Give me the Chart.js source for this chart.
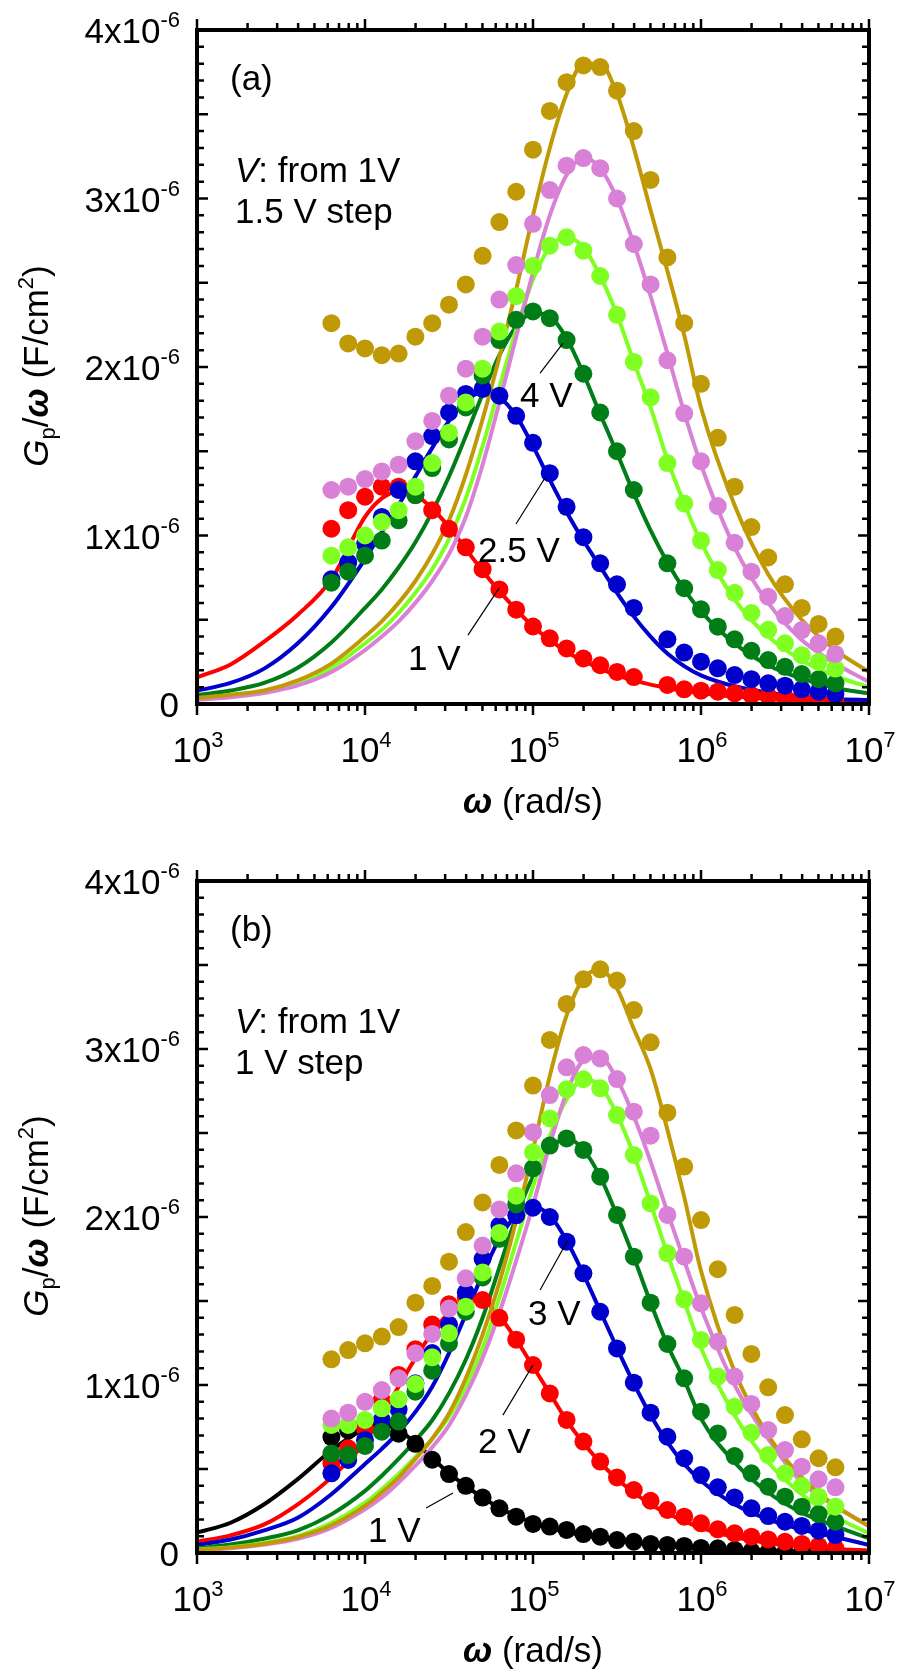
<!DOCTYPE html>
<html>
<head>
<meta charset="utf-8">
<script src="https://cdn.jsdelivr.net/npm/chart.js@4.4.1/dist/chart.umd.min.js"></script>
<style>
  html, body { margin: 0; padding: 0; background: #fff; }
  #wrap { position: relative; width: 900px; height: 1677px; }
  canvas { position: absolute; left: 0; }
</style>
</head>
<body>
<div id="wrap">
  <canvas id="chartA" width="900" height="851" style="top:0"></canvas>
  <canvas id="chartB" width="900" height="826" style="top:851px"></canvas>
</div>
<script>
// measured frequencies, rad/s
const omegaMeas = [6310, 7943, 10000, 12589, 15849, 19953, 25119, 31623, 39811, 50119,
  63096, 79433, 100000, 125893, 158489, 199526, 251189, 316228, 398107, 501187,
  630957, 794328, 1000000, 1258925, 1584893, 1995262, 2511886, 3162278, 3981072, 5011872, 6309573];

const omegaFit = [1000, 1585, 2512, 3981, 6310, 10000, 12589, 15849, 19953, 25119,
  31623, 39811, 50119, 63096, 79433, 100000, 125893, 158489, 199526, 251189,
  316228, 398107, 501187, 630957, 794328, 1000000, 1584893, 2511886, 3981072, 6309573, 10000000];

// Gp/omega in units of 1e-6 F/cm2
// panel (a): 1 V to 8.5 V, 1.5 V step
const redA = [1.04, 1.15, 1.23, 1.29, 1.29, 1.24, 1.15, 1.04, 0.93, 0.80, 0.68, 0.56, 0.46, 0.39, 0.33, 0.27, 0.23, 0.19, 0.16, null, 0.113, 0.087, 0.079, 0.073, 0.063, 0.053, 0.047, 0.040, 0.034, 0.020, 0.014];
const blueA = [0.74, 0.84, 0.95, 1.11, 1.27, 1.44, 1.59, 1.73, 1.84, 1.87, 1.83, 1.71, 1.55, 1.37, 1.17, 0.99, 0.835, 0.71, 0.57, null, 0.384, 0.305, 0.251, 0.212, 0.172, 0.147, 0.123, 0.109, 0.087, 0.073, 0.059];
const dkGreenA = [0.72, 0.785, 0.88, 0.97, 1.09, 1.24, 1.40, 1.57, 1.76, 1.95, 2.16, 2.28, 2.33, 2.29, 2.16, 1.96, 1.73, 1.50, 1.27, null, 0.835, 0.687, 0.562, 0.459, 0.384, 0.316, 0.261, 0.221, 0.178, 0.147, 0.123];
const ltGreenA = [0.88, 0.93, 1.00, 1.08, 1.15, 1.29, 1.43, 1.61, 1.79, 1.99, 2.21, 2.42, 2.60, 2.72, 2.77, 2.69, 2.54, 2.31, 2.03, 1.82, 1.43, 1.19, 0.97, 0.795, 0.66, 0.54, 0.44, 0.36, 0.29, 0.25, 0.21];
const pinkA = [1.27, 1.29, 1.335, 1.38, 1.42, 1.56, 1.68, 1.83, 1.99, 2.18, 2.40, 2.605, 2.85, 3.05, 3.195, 3.24, 3.18, 3.00, 2.73, 2.49, 2.04, 1.725, 1.44, 1.175, 0.957, 0.785, 0.637, 0.522, 0.439, 0.36, 0.297];
const goldA = [2.26, 2.14, 2.11, 2.07, 2.08, 2.18, 2.26, 2.37, 2.49, 2.66, 2.86, 3.04, 3.29, 3.52, 3.69, 3.79, 3.78, 3.64, 3.40, 3.11, 2.65, 2.26, 1.90, 1.58, 1.29, 1.05, 0.87, 0.71, 0.57, 0.475, 0.40];

const fitRedA = [0.158, 0.235, 0.37, 0.53, 0.74, 1.11, 1.22, 1.26, 1.24, 1.16, 1.05, 0.92, 0.79, 0.67, 0.56, 0.46, 0.38, 0.31, 0.255, 0.21, 0.17, 0.14, 0.115, 0.095, 0.078, 0.064, 0.044, 0.03, 0.02, 0.013, 0.008];
const fitBlueA = [0.079, 0.125, 0.21, 0.36, 0.575, 0.86, 1.02, 1.18, 1.35, 1.52, 1.68, 1.80, 1.85, 1.82, 1.71, 1.53, 1.33, 1.14, 0.97, 0.815, 0.66, 0.52, 0.40, 0.30, 0.225, 0.17, 0.105, 0.067, 0.045, 0.03, 0.023];
const fitDkGreenA = [0.053, 0.08, 0.125, 0.215, 0.365, 0.57, 0.68, 0.81, 0.96, 1.14, 1.35, 1.59, 1.84, 2.07, 2.24, 2.32, 2.30, 2.17, 1.96, 1.72, 1.49, 1.25, 1.03, 0.84, 0.68, 0.55, 0.36, 0.23, 0.15, 0.095, 0.063];
const fitLtGreenA = [0.03, 0.048, 0.072, 0.125, 0.215, 0.36, 0.44, 0.54, 0.66, 0.80, 0.98, 1.22, 1.53, 1.88, 2.22, 2.52, 2.71, 2.77, 2.71, 2.54, 2.31, 2.03, 1.76, 1.45, 1.19, 0.96, 0.62, 0.40, 0.26, 0.165, 0.10];
const fitPinkA = [0.025, 0.04, 0.065, 0.11, 0.19, 0.32, 0.40, 0.49, 0.60, 0.73, 0.89, 1.11, 1.42, 1.79, 2.18, 2.56, 2.90, 3.14, 3.24, 3.18, 3.00, 2.73, 2.42, 2.08, 1.73, 1.42, 0.93, 0.60, 0.38, 0.24, 0.13];
const fitGoldA = [0.035, 0.055, 0.08, 0.14, 0.24, 0.40, 0.49, 0.60, 0.73, 0.89, 1.09, 1.36, 1.69, 2.06, 2.46, 2.90, 3.30, 3.62, 3.80, 3.80, 3.62, 3.30, 2.93, 2.57, 2.19, 1.76, 1.18, 0.77, 0.50, 0.32, 0.19];

// panel (b): 1 V to 7 V, 1 V step
const blackB = [0.69, 0.73, 0.77, 0.78, 0.71, 0.65, 0.555, 0.47, 0.40, 0.33, 0.266, 0.216, 0.173, 0.157, 0.137, 0.113, 0.097, 0.077, 0.067, 0.054, 0.048, 0.042, 0.03, 0.028, 0.018, 0.01, 0.005, 0.003, 0.002, 0.002, 0.002];
const redB = [0.534, 0.623, 0.742, 0.91, 1.06, 1.213, 1.36, 1.48, 1.52, 1.506, 1.40, 1.27, 1.119, 0.95, 0.792, 0.663, 0.544, 0.45, 0.375, 0.311, 0.256, 0.216, 0.177, 0.141, 0.117, 0.097, 0.081, 0.067, 0.054, 0.042, 0.028];
const blueB = [0.474, 0.554, 0.673, 0.792, 0.855, 1.01, 1.19, 1.36, 1.55, 1.75, 1.95, 2.01, 2.055, 2.0, 1.853, 1.665, 1.436, 1.218, 1.014, 0.835, 0.692, 0.564, 0.464, 0.391, 0.331, 0.266, 0.22, 0.186, 0.161, 0.133, 0.107];
const dkGreenB = [0.593, 0.583, 0.637, 0.722, 0.782, 0.96, 1.085, 1.248, 1.436, 1.64, 1.87, 2.075, 2.29, 2.425, 2.468, 2.399, 2.24, 2.012, 1.764, 1.49, 1.244, 1.04, 0.841, 0.712, 0.577, 0.474, 0.395, 0.335, 0.276, 0.232, 0.186];
const ltGreenB = [0.762, 0.762, 0.792, 0.861, 0.915, 1.006, 1.165, 1.308, 1.466, 1.67, 1.905, 2.127, 2.385, 2.587, 2.76, 2.82, 2.766, 2.607, 2.369, 2.081, 1.784, 1.51, 1.268, 1.05, 0.871, 0.716, 0.583, 0.474, 0.399, 0.335, 0.276];
const pinkB = [0.80, 0.835, 0.90, 0.97, 1.04, 1.189, 1.304, 1.455, 1.635, 1.83, 2.045, 2.26, 2.505, 2.726, 2.891, 2.964, 2.944, 2.821, 2.627, 2.484, 2.012, 1.764, 1.486, 1.258, 1.05, 0.887, 0.732, 0.613, 0.514, 0.439, 0.391];
const goldB = [1.153, 1.208, 1.248, 1.288, 1.345, 1.49, 1.59, 1.734, 1.91, 2.087, 2.31, 2.515, 2.782, 3.054, 3.268, 3.415, 3.474, 3.407, 3.232, 3.04, 2.621, 2.30, 1.982, 1.689, 1.417, 1.185, 0.986, 0.821, 0.677, 0.564, 0.51];

const fitBlackB = [0.121, 0.18, 0.29, 0.44, 0.61, 0.74, 0.765, 0.73, 0.655, 0.565, 0.475, 0.40, 0.33, 0.27, 0.22, 0.18, 0.15, 0.125, 0.105, 0.09, 0.075, 0.062, 0.052, 0.043, 0.035, 0.029, 0.02, 0.013, 0.008, 0.005, 0.003];
const fitRedB = [0.067, 0.105, 0.17, 0.29, 0.45, 0.66, 0.82, 0.99, 1.16, 1.31, 1.43, 1.50, 1.50, 1.41, 1.27, 1.11, 0.95, 0.79, 0.655, 0.54, 0.44, 0.36, 0.29, 0.235, 0.19, 0.15, 0.095, 0.06, 0.038, 0.024, 0.015];
const fitBlueB = [0.048, 0.08, 0.135, 0.21, 0.35, 0.53, 0.62, 0.72, 0.84, 0.99, 1.19, 1.42, 1.66, 1.87, 2.01, 2.06, 2.01, 1.86, 1.66, 1.44, 1.22, 1.01, 0.82, 0.66, 0.53, 0.43, 0.29, 0.20, 0.14, 0.095, 0.048];
const fitDkGreenB = [0.028, 0.05, 0.085, 0.135, 0.23, 0.37, 0.46, 0.56, 0.67, 0.79, 0.95, 1.15, 1.40, 1.70, 2.00, 2.24, 2.40, 2.47, 2.40, 2.24, 2.01, 1.76, 1.49, 1.24, 1.03, 0.80, 0.54, 0.36, 0.24, 0.16, 0.087];
const fitLtGreenB = [0.02, 0.035, 0.06, 0.10, 0.18, 0.30, 0.38, 0.47, 0.57, 0.68, 0.81, 0.99, 1.22, 1.52, 1.85, 2.18, 2.48, 2.70, 2.82, 2.78, 2.61, 2.37, 2.08, 1.78, 1.50, 1.22, 0.82, 0.54, 0.35, 0.215, 0.117];
const fitPinkB = [0.015, 0.028, 0.05, 0.085, 0.15, 0.26, 0.33, 0.42, 0.52, 0.63, 0.76, 0.94, 1.16, 1.43, 1.74, 2.07, 2.43, 2.74, 2.93, 2.95, 2.82, 2.60, 2.33, 2.03, 1.74, 1.46, 1.00, 0.68, 0.42, 0.28, 0.16];
const fitGoldB = [0.018, 0.032, 0.055, 0.095, 0.165, 0.28, 0.36, 0.45, 0.56, 0.68, 0.83, 1.04, 1.30, 1.61, 1.98, 2.40, 2.84, 3.20, 3.42, 3.47, 3.36, 3.12, 2.88, 2.52, 2.12, 1.68, 1.08, 0.70, 0.45, 0.28, 0.16];

const yTickValues = [0, 1, 2, 3, 4];          // x1e-6
const xDecades = [3, 4, 5, 6, 7];

const C = {
  black: '#000000', red: '#ff0000', blue: '#0000cc', dkGreen: '#007d17',
  ltGreen: '#80ff22', pink: '#d981d6', gold: '#c09a06'
};
const SCALE = 1e-6;
const FONT = "'Liberation Sans', Arial, sans-serif";

const seriesA = [
  { pts: redA, fit: fitRedA, color: C.red },
  { pts: blueA, fit: fitBlueA, color: C.blue },
  { pts: dkGreenA, fit: fitDkGreenA, color: C.dkGreen },
  { pts: ltGreenA, fit: fitLtGreenA, color: C.ltGreen },
  { pts: pinkA, fit: fitPinkA, color: C.pink },
  { pts: goldA, fit: fitGoldA, color: C.gold }
];
const seriesB = [
  { pts: blackB, fit: fitBlackB, color: C.black },
  { pts: redB, fit: fitRedB, color: C.red },
  { pts: blueB, fit: fitBlueB, color: C.blue },
  { pts: dkGreenB, fit: fitDkGreenB, color: C.dkGreen },
  { pts: ltGreenB, fit: fitLtGreenB, color: C.ltGreen },
  { pts: pinkB, fit: fitPinkB, color: C.pink },
  { pts: goldB, fit: fitGoldB, color: C.gold }
];

// voltage labels: text at (w, v), leader line from (w1,v1) to (w2,v2)
const notesA = [
  { text: '4 V', w: 8.37e4, v: 1.763, w1: 1.102e5, v1: 1.964, w2: 1.51e5, v2: 2.142 },
  { text: '2.5 V', w: 4.71e4, v: 0.843, w1: 7.92e4, v1: 1.068, w2: 1.178e5, v2: 1.341 },
  { text: '1 V', w: 1.803e4, v: 0.202, w1: 4.10e4, v1: 0.409, w2: 6.28e4, v2: 0.688 }
];
const notesB = [
  { text: '3 V', w: 9.33e4, v: 1.357, w1: 1.102e5, v1: 1.565, w2: 1.614e5, v2: 1.863 },
  { text: '2 V', w: 4.71e4, v: 0.595, w1: 6.62e4, v1: 0.821, w2: 1.0e5, v2: 1.119 },
  { text: '1 V', w: 1.042e4, v: 0.065, w1: 2.31e4, v1: 0.268, w2: 3.34e4, v2: 0.357 }
];

function drawParts(ctx, parts, x, y, align) {
  let total = 0;
  parts.forEach(p => { ctx.font = p.font; p.w = ctx.measureText(p.t).width; total += p.w; });
  let cx = align === 'right' ? x - total : align === 'center' ? x - total / 2 : x;
  parts.forEach(p => {
    ctx.font = p.font;
    ctx.fillText(p.t, cx, y + (p.dy || 0));
    cx += p.w;
  });
}

const big = '35px ' + FONT;
const small = '22px ' + FONT;
const ital = 'italic 35px ' + FONT;
const omegaFont = 'bold italic 35px ' + FONT;

const framePlugin = {
  id: 'frameText',
  afterDatasetsDraw(chart) {
    const ctx = chart.ctx;
    const a = chart.chartArea;
    const xs = chart.scales.x, ys = chart.scales.y;
    const o = chart.options.plugins.frameText;
    ctx.save();
    ctx.fillStyle = '#000';
    ctx.strokeStyle = '#000';
    ctx.textBaseline = 'alphabetic';

    // ticks: x outward, y inward
    ctx.lineWidth = 2.5;
    ctx.beginPath();
    xDecades.forEach(e => {
      for (let m = 1; m <= 9; m++) {
        if (e === 7 && m > 1) break;
        const px = xs.getPixelForValue(m * Math.pow(10, e));
        const len = m === 1 ? 11 : 7;
        ctx.moveTo(px, a.bottom); ctx.lineTo(px, a.bottom + len);
        ctx.moveTo(px, a.top); ctx.lineTo(px, a.top - len);
      }
    });
    for (let k = 0; k <= 40; k++) {
      const py = ys.getPixelForValue(k * 0.1 * SCALE);
      const len = k % 5 === 0 ? 11 : 7;
      ctx.moveTo(a.left, py); ctx.lineTo(a.left + len, py);
      ctx.moveTo(a.right, py); ctx.lineTo(a.right - len, py);
    }
    ctx.stroke();

    ctx.lineWidth = 4;
    ctx.strokeRect(a.left, a.top, a.right - a.left, a.bottom - a.top);

    // y tick labels
    yTickValues.forEach(v => {
      const py = ys.getPixelForValue(v * SCALE);
      if (v === 0) {
        drawParts(ctx, [{ t: '0', font: big }], a.left - 18, py + 13, 'right');
      } else {
        drawParts(ctx, [{ t: v + 'x10', font: big }, { t: '-6', font: small, dy: -16 }],
          a.left - 17, py + 13, 'right');
      }
    });

    // x tick labels
    xDecades.forEach(e => {
      const px = xs.getPixelForValue(Math.pow(10, e));
      drawParts(ctx, [{ t: '10', font: big }, { t: String(e), font: small, dy: -15 }],
        px + 1, a.bottom + 58, 'center');
    });

    // axis titles
    drawParts(ctx, [{ t: '\u03c9', font: omegaFont }, { t: ' (rad/s)', font: big }],
      (a.left + a.right) / 2, a.bottom + 109, 'center');

    ctx.save();
    ctx.translate(48, (a.top + a.bottom) / 2 - 1);
    ctx.rotate(-Math.PI / 2);
    drawParts(ctx, [
      { t: 'G', font: ital },
      { t: 'p', font: small, dy: 7 },
      { t: '/', font: big },
      { t: '\u03c9', font: omegaFont },
      { t: ' (F/cm', font: big },
      { t: '2', font: small, dy: -15 },
      { t: ')', font: big }
    ], 0, 0, 'center');
    ctx.restore();

    // panel tag and condition text
    drawParts(ctx, [{ t: o.tag, font: big }], a.left + 33, a.top + 60, 'left');
    drawParts(ctx, [{ t: 'V', font: ital }, { t: ': from 1V', font: big }], a.left + 38, a.top + 152, 'left');
    drawParts(ctx, [{ t: o.step, font: big }], a.left + 38, a.top + 193, 'left');

    // voltage labels with leader lines
    ctx.lineWidth = 1.2;
    o.notes.forEach(n => {
      ctx.beginPath();
      ctx.moveTo(xs.getPixelForValue(n.w1), ys.getPixelForValue(n.v1 * SCALE));
      ctx.lineTo(xs.getPixelForValue(n.w2), ys.getPixelForValue(n.v2 * SCALE));
      ctx.stroke();
      drawParts(ctx, [{ t: n.text, font: big }],
        xs.getPixelForValue(n.w), ys.getPixelForValue(n.v * SCALE), 'left');
    });
    ctx.restore();
  }
};

function buildDatasets(series) {
  const sets = [];
  series.forEach((s, i) => {
    sets.push({
      type: 'line',
      data: omegaFit.map((w, j) => ({ x: w, y: s.fit[j] * SCALE })),
      borderColor: s.color,
      borderWidth: 4,
      pointRadius: 0,
      fill: false,
      cubicInterpolationMode: 'monotone',
      order: 100 - i
    });
  });
  series.forEach((s, i) => {
    sets.push({
      type: 'scatter',
      data: omegaMeas.map((w, j) => ({ x: w, y: s.pts[j] })).filter(p => p.y !== null)
        .map(p => ({ x: p.x, y: p.y * SCALE })),
      backgroundColor: s.color,
      borderWidth: 0,
      pointRadius: 9,
      pointHoverRadius: 9,
      showLine: false,
      order: 50 - i
    });
  });
  return sets;
}

function makeChart(id, series, padBottom, tag, step, notes) {
  return new Chart(document.getElementById(id), {
    type: 'scatter',
    data: { datasets: buildDatasets(series) },
    options: {
      responsive: false,
      animation: false,
      events: [],
      layout: { autoPadding: false, padding: { left: 197, right: 31, top: 30, bottom: padBottom } },
      scales: {
        x: { type: 'logarithmic', min: 1e3, max: 1e7, display: false },
        y: { type: 'linear', min: 0, max: 4 * SCALE, display: false }
      },
      plugins: {
        legend: { display: false },
        tooltip: { enabled: false },
        frameText: { tag: tag, step: step, notes: notes }
      }
    },
    plugins: [framePlugin]
  });
}

makeChart('chartA', seriesA, 147, '(a)', '1.5 V step', notesA);
makeChart('chartB', seriesB, 124, '(b)', '1 V step', notesB);
</script>
</body>
</html>
